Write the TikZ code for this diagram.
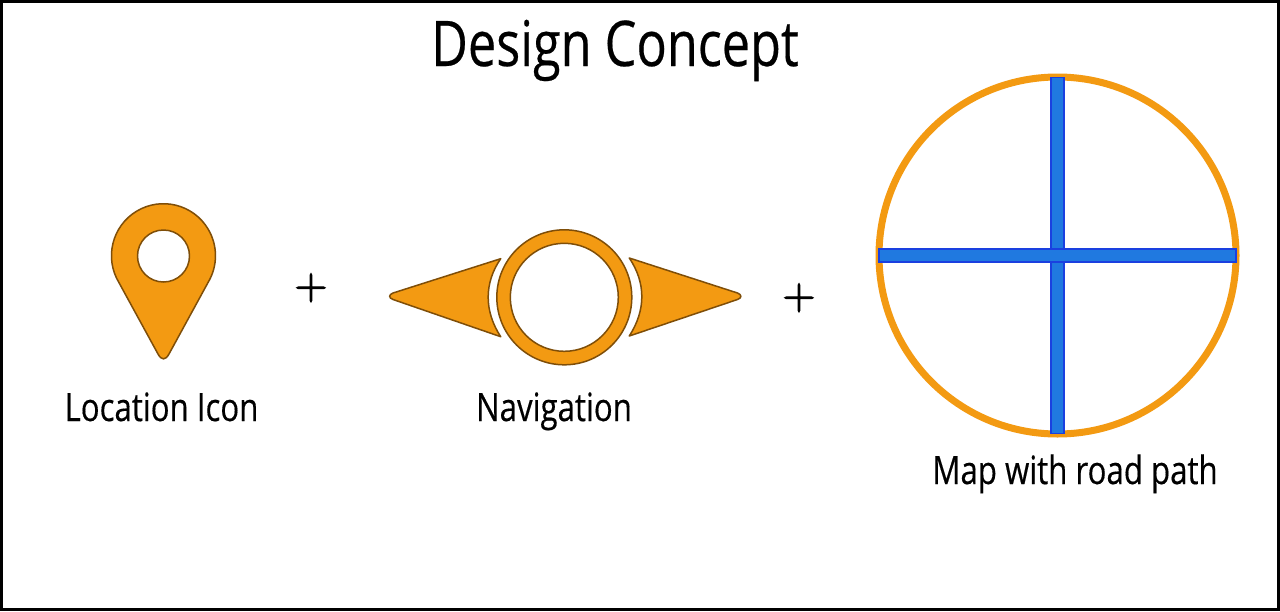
\documentclass[tikz,border=0pt]{standalone}
\usepackage{fontspec}
\setmainfont[FakeStretch=0.80,FakeBold=0.35]{Open Sans}
\newfontfamily\plusfont[FakeBold=2.5]{Latin Modern Roman}
\definecolor{pinfill}{HTML}{F39A12}
\definecolor{pinedge}{HTML}{7F4E08}
\definecolor{roadfill}{HTML}{2079E0}
\definecolor{roadedge}{HTML}{1A40E0}
\tikzset{
  iconshape/.style={fill=pinfill,draw=pinedge,line width=1.5pt,line join=round},
  road/.style={fill=roadfill,draw=roadedge,line width=1.3pt},
  caption/.style={font=\fontsize{39}{42}\selectfont,text=black,inner sep=0pt,anchor=base},
  plussign/.style={font=\plusfont\fontsize{45}{50}\selectfont,text=black,inner sep=0pt,anchor=base},
}
\begin{document}
\begin{tikzpicture}[x=1pt,y=-1pt]
\useasboundingbox (0,0) rectangle (1280,611);
\fill[white] (0,0) rectangle (1280,611);
\draw[black,line width=3pt] (1.5,1.5) rectangle (1278.5,609.5);
\node[font=\fontsize{63}{66}\selectfont,inner sep=0pt,anchor=base] (title) at (615,66) {Design Concept};
% location pin
\path[iconshape,even odd rule]
  (118.9,282.5) arc[start angle=149,end angle=391,radius=52]
  -- (169,354) .. controls (165.5,360.5) and (161.5,360.5) .. (158,354) -- cycle
  (189.5,256) arc[start angle=0,end angle=360,radius=26];
\node[caption] (loc) at (161.5,421) {Location Icon};
\node[plussign] (plusa) at (311,299) {+};
% navigation
\path[iconshape,even odd rule]
  (631.8,297.3) arc[start angle=0,end angle=360,radius=67.5]
  (618.3,297.3) arc[start angle=0,end angle=360,radius=54];
\path[iconshape]
  (500.7,258.7) .. controls (484,283) and (484,311) .. (500.7,336.7)
  -- (393,299.5) .. controls (388.5,297.8) and (388.5,294.8) .. (393,293) -- cycle;
\path[iconshape]
  (629.3,258) .. controls (646,283) and (646,310) .. (629.3,336)
  -- (737.5,299.5) .. controls (742,297.8) and (742,294.8) .. (737.5,293) -- cycle;
\node[caption] (nav) at (554,421) {Navigation};
\node[plussign] (plusb) at (799,309) {+};
% map
\draw[pinfill,line width=7pt] (1057.5,255.5) circle[radius=178.5];
\path[road] (1051,77.5) rectangle (1064,433.5);
\path[road] (879,249) rectangle (1236,262);
\fill[roadfill] (1052,250) rectangle (1063,261);
\node[caption] (map) at (1075,484) {Map with road path};
\end{tikzpicture}
\end{document}
